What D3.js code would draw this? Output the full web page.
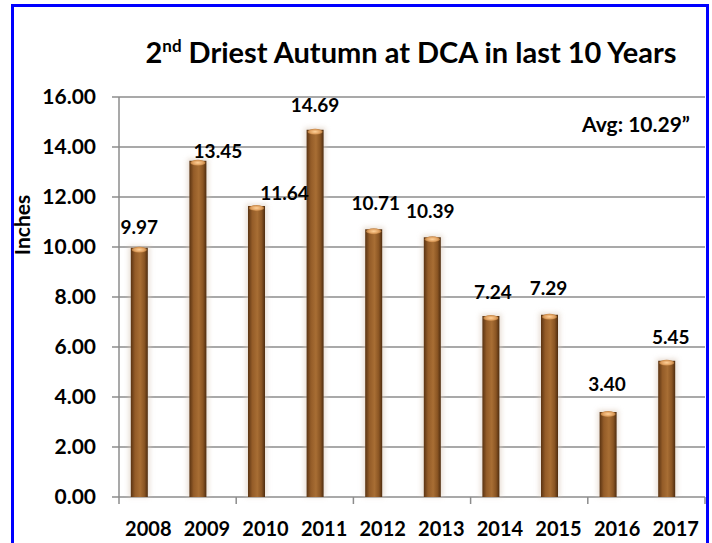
<!DOCTYPE html>
<html><head><meta charset="utf-8">
<script src="https://cdn.jsdelivr.net/npm/d3@7/dist/d3.min.js"></script>
<style>body{margin:0;background:#fff}svg{display:block}</style>
</head><body>
<script>
const years = ["2008","2009","2010","2011","2012","2013","2014","2015","2016","2017"];
const values = [9.97,13.45,11.64,14.69,10.71,10.39,7.24,7.29,3.40,5.45];
const yTicks = [0,2,4,6,8,10,12,14,16];
const avgLabel = "Avg: 10.29\u201D";
// label nudges relative to bar top (layout only)
const labelDx = [0,20,28,0,2,-2,2,-1,-1,4];
const labelDy = [-14,-3,-6,-18,-19,-19,-17,-20,-21,-17];

const W=712,H=543;
const svg=d3.select("body").append("svg").attr("width",W).attr("height",H);
const font="Lato, 'Liberation Sans', sans-serif";

const defs=svg.append("defs");
const g1=defs.append("linearGradient").attr("id","cyl").attr("x1","0").attr("x2","1").attr("y1","0").attr("y2","0");
[["0%","#5a3312"],["25%","#945c28"],["55%","#a86e34"],["80%","#8a5523"],["100%","#4e2c0f"]].forEach(s=>g1.append("stop").attr("offset",s[0]).attr("stop-color",s[1]));
const g2=defs.append("radialGradient").attr("id","top");
[["0%","#ffd29a"],["70%","#e0a060"],["100%","#b57a3c"]].forEach(s=>g2.append("stop").attr("offset",s[0]).attr("stop-color",s[1]));
const f=defs.append("filter").attr("id","glow").attr("x","-50%").attr("width","200%");
f.append("feGaussianBlur").attr("stdDeviation",2.5);

// border
svg.append("rect").attr("x",12.5).attr("y",5.5).attr("width",695).attr("height",560)
  .attr("fill","none").attr("stroke","#0000ff").attr("stroke-width",3);

const x=d3.scaleBand().domain(years).range([119,705]).padding(0);
const y=d3.scaleLinear().domain([0,16]).range([497,97]);

// grid
svg.append("g").selectAll("line").data(yTicks).join("line")
  .attr("x1",112).attr("x2",705).attr("y1",d=>y(d)).attr("y2",d=>y(d))
  .attr("stroke","#8c8c8c").attr("stroke-width",1.5);
// y axis line
svg.append("line").attr("x1",119).attr("x2",119).attr("y1",y(16)).attr("y2",y(0)).attr("stroke","#8c8c8c").attr("stroke-width",1.5);
// x axis tick marks every 2 categories
const xt=[0,2,4,6,8,10].map(i=>119+i*x.bandwidth());
svg.append("g").selectAll("line").data(xt).join("line")
  .attr("x1",d=>d).attr("x2",d=>d).attr("y1",y(0)).attr("y2",y(0)+7).attr("stroke","#8c8c8c").attr("stroke-width",1.5);

// y tick labels
svg.append("g").selectAll("text").data(yTicks).join("text")
  .attr("x",96).attr("y",d=>y(d)).attr("dy","0.35em").attr("text-anchor","end")
  .attr("font-family",font).attr("font-weight","bold").attr("font-size",21).text(d=>d.toFixed(2));
// x labels
svg.append("g").selectAll("text").data(years).join("text")
  .attr("x",d=>x(d)+x.bandwidth()/2).attr("y",536).attr("text-anchor","middle")
  .attr("font-family",font).attr("font-weight","bold").attr("font-size",20).text(d=>d);

const bw=17, off=-9;
const cx=d=>x(d)+x.bandwidth()/2+off;
const bars=svg.append("g");
// glow
bars.selectAll("rect.glow").data(values).join("rect").attr("class","glow")
  .attr("x",(d,i)=>cx(years[i])-bw/2-2).attr("width",bw+4)
  .attr("y",d=>y(d)-2).attr("height",d=>y(0)-y(d)+2)
  .attr("fill","#d9c8b8").attr("opacity",0.6).attr("filter","url(#glow)");
bars.selectAll("rect.bar").data(values).join("rect").attr("class","bar")
  .attr("x",(d,i)=>cx(years[i])-bw/2).attr("width",bw)
  .attr("y",d=>y(d)).attr("height",d=>y(0)-y(d)).attr("fill","url(#cyl)");
bars.selectAll("ellipse").data(values).join("ellipse")
  .attr("cx",(d,i)=>cx(years[i])).attr("cy",d=>y(d)+2).attr("rx",bw/2-1).attr("ry",3)
  .attr("fill","url(#top)");

// value labels
svg.append("g").selectAll("text").data(values).join("text")
  .attr("x",(d,i)=>cx(years[i])+labelDx[i]).attr("y",(d,i)=>y(d)+labelDy[i])
  .attr("text-anchor","middle").attr("font-family",font).attr("font-weight","bold").attr("font-size",19)
  .text(d=>d.toFixed(2));

// title
const t=svg.append("text").attr("x",411).attr("y",63).attr("text-anchor","middle")
  .attr("font-family",font).attr("font-weight","bold").attr("font-size",29);
t.append("tspan").text("2");
t.append("tspan").attr("font-size",17).attr("dy",-11).text("nd");
t.append("tspan").attr("dy",11).text(" Driest Autumn at DCA in last 10 Years");

// y title
svg.append("text").attr("transform","translate(30,225) rotate(-90)").attr("text-anchor","middle")
  .attr("font-family",font).attr("font-weight","bold").attr("font-size",21).text("Inches");

// avg
svg.append("text").attr("x",690).attr("y",132).attr("text-anchor","end")
  .attr("font-family",font).attr("font-weight","bold").attr("font-size",21).text(avgLabel);
</script>
</body></html>
